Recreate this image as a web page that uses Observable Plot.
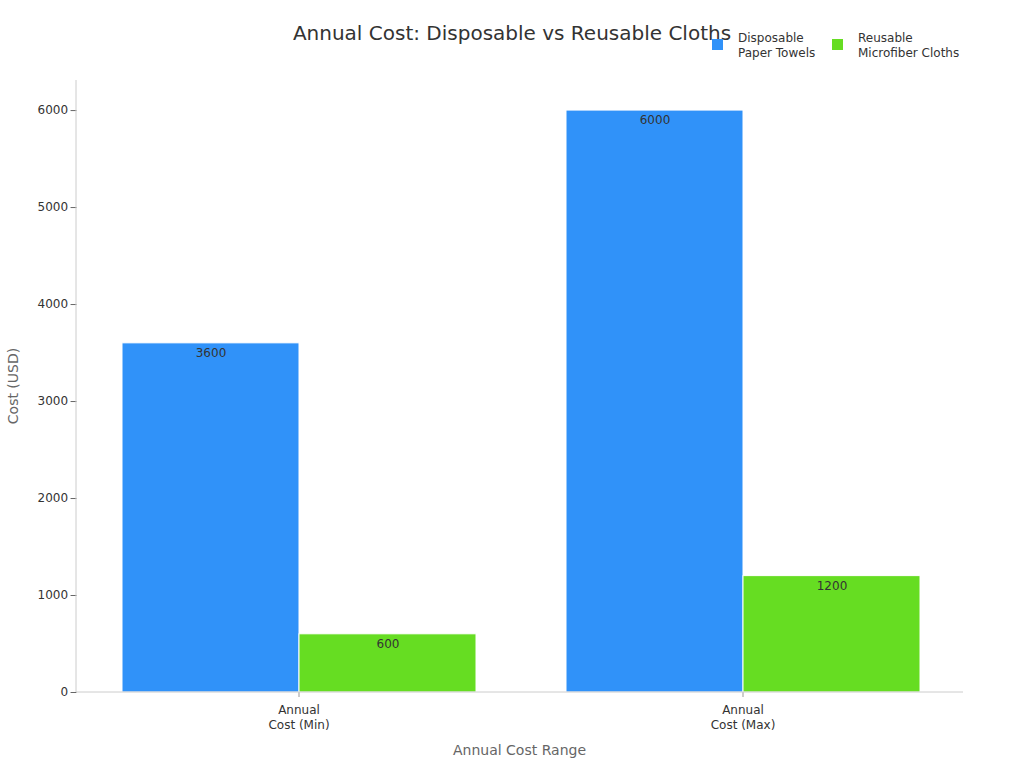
<!DOCTYPE html>
<html>
<head>
<meta charset="utf-8">
<script src="https://cdn.jsdelivr.net/npm/d3@7"></script>
<script src="https://cdn.jsdelivr.net/npm/@observablehq/plot@0.6"></script>
<style>
  html, body { margin: 0; padding: 0; background: #fff; }
  body { width: 1024px; height: 768px; overflow: hidden; font-family: "DejaVu Sans", sans-serif; }
  #header { position: relative; width: 1024px; height: 70px; }
  #title { position: absolute; left: 0; width: 1024px; top: 21px; text-align: center; font-size: 20px; line-height: 24px; color: #333; }
  .leg { position: absolute; top: 31px; font-size: 12px; line-height: 15px; color: #333; }
  .sw { position: absolute; top: 8px; width: 11px; height: 11px; }
  .leg .txt { position: absolute; left: 26px; top: 0; white-space: nowrap; }
</style>
</head>
<body>
<div id="header">
  <div id="title">Annual Cost: Disposable vs Reusable Cloths</div>
  <div id="legend"></div>
</div>
<div id="chart"></div>
<script>
const groups = ["Annual Cost (Min)", "Annual Cost (Max)"];
const groupTickLabels = ["Annual\nCost (Min)", "Annual\nCost (Max)"];
const series = ["Disposable Paper Towels", "Reusable Microfiber Cloths"];
const seriesLegendLabels = ["Disposable\nPaper Towels", "Reusable\nMicrofiber Cloths"];
const seriesColors = ["#3092f9", "#66dd22"];
const disposableValues = [3600, 6000];
const reusableValues = [600, 1200];
const yTicks = [0, 1000, 2000, 3000, 4000, 5000, 6000];

const data = [];
groups.forEach((g, i) => {
  data.push({group: g, series: series[0], value: disposableValues[i]});
  data.push({group: g, series: series[1], value: reusableValues[i]});
});

// legend
const legend = document.getElementById("legend");
const legX = [712, 832];
series.forEach((s, i) => {
  const d = document.createElement("div");
  d.className = "leg";
  d.style.left = legX[i] + "px";
  d.innerHTML = `<div class="sw" style="background:${seriesColors[i]};left:0"></div><div class="txt">${seriesLegendLabels[i].replace("\n", "<br>")}</div>`;
  legend.appendChild(d);
});

const W = 1024, H = 698;
const mL = 76, mR = 59, mT = 10, mB = 76;
const axisRight = 963;
const padInner = 0.2, padOuter = 0.1;
// y axis should sit at the plot's left edge, not the first facet's edge
const step = (W - mL - mR) / (groups.length - padInner + 2 * padOuter);
const axisShift = -padOuter * step;

const plot = Plot.plot({
  width: W,
  height: H,
  marginLeft: mL,
  marginRight: mR,
  marginTop: mT,
  marginBottom: mB,
  style: {fontFamily: "DejaVu Sans, sans-serif", fontSize: "12px", color: "#333", background: "#fff"},
  fx: {domain: groups, paddingInner: padInner, paddingOuter: padOuter, label: null, axis: null},
  x: {domain: series, padding: 0, axis: null},
  y: {domain: [0, 6310], axis: null},
  color: {domain: series, range: seriesColors},
  marks: [
    Plot.barY(data, {fx: "group", x: "series", y: "value", fill: "series", stroke: "white", strokeWidth: 1}),
    Plot.text(data, {fx: "group", x: "series", y: "value", text: d => String(d.value), dy: 10, fill: "#333", fontSize: 12}),
    Plot.axisY({ticks: yTicks, tickSize: 6, tickPadding: 3, stroke: "#666", fill: "#333", label: null,
      tickFormat: d => String(d), dx: axisShift}),
    Plot.axisFx({anchor: "bottom", tickSize: 5, tickPadding: 6, stroke: "#999", fill: "#333", label: null,
      lineHeight: 1.25, tickFormat: d => groupTickLabels[groups.indexOf(d)]})
  ]
});
document.getElementById("chart").appendChild(plot);

// axis lines and axis titles
const svg = d3.select(plot);
svg.append("line").attr("x1", mL).attr("x2", mL).attr("y1", mT).attr("y2", H - mB)
  .attr("stroke", "#ccc").attr("stroke-width", 1);
svg.append("line").attr("x1", mL).attr("x2", axisRight).attr("y1", H - mB).attr("y2", H - mB)
  .attr("stroke", "#ccc").attr("stroke-width", 1);
svg.append("text").attr("x", (mL + axisRight) / 2).attr("y", H - 18).attr("dy", "0.35em")
  .attr("text-anchor", "middle").attr("fill", "#666").attr("font-size", 14).text("Annual Cost Range");
svg.append("text").attr("transform", `translate(13,${(mT + H - mB) / 2}) rotate(-90)`)
  .attr("text-anchor", "middle").attr("dy", "0.35em").attr("fill", "#666").attr("font-size", 14).text("Cost (USD)");
</script>
</body>
</html>
